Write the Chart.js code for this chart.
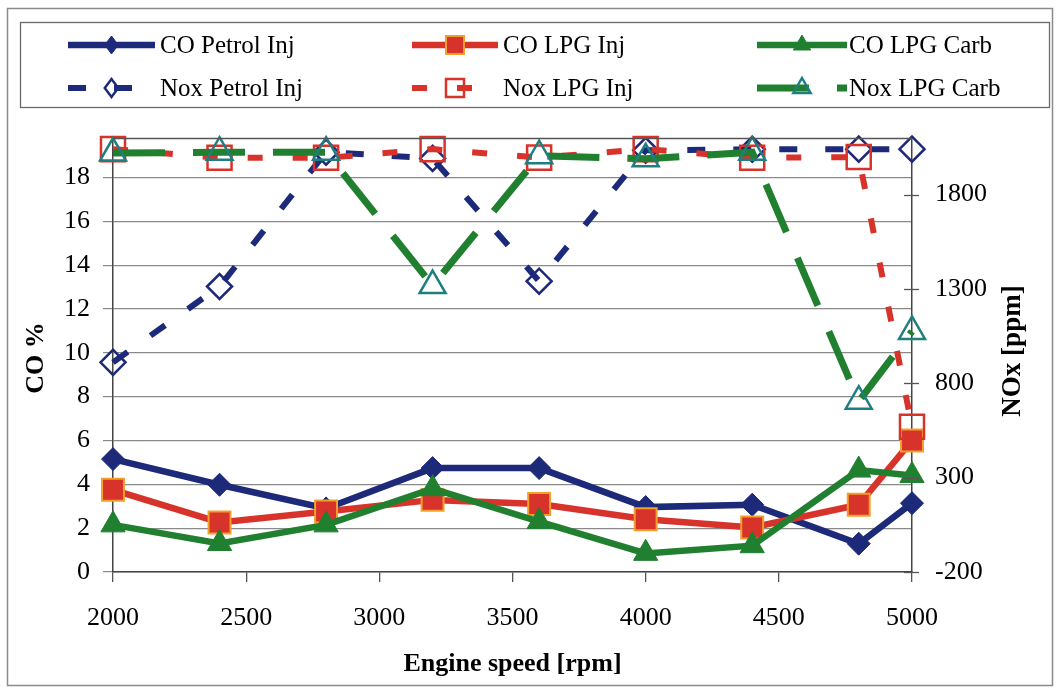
<!DOCTYPE html>
<html>
<head>
<meta charset="utf-8">
<script src="https://cdn.jsdelivr.net/npm/chart.js@4/dist/chart.umd.min.js"></script>
<style>
  html, body { margin: 0; padding: 0; background: #fff; }
  #wrap { width: 1058px; height: 689px; position: relative; }
</style>
</head>
<body>
<div id="wrap"><canvas id="c" width="1058" height="689"></canvas></div>
<script>
// Engine speed (rpm) at each measurement point
const RPM = [2000, 2400, 2800, 3200, 3600, 4000, 4400, 4800, 5000];

// CO emissions, % (left axis)
const CO_PETROL_INJ = [5.15, 3.98, 2.9, 4.74, 4.74, 2.96, 3.07, 1.29, 3.14];
const CO_LPG_INJ    = [3.75, 2.26, 2.76, 3.29, 3.1, 2.41, 2.03, 3.07, 6.0];
const CO_LPG_CARB   = [2.15, 1.3, 2.15, 3.8, 2.3, 0.85, 1.2, 4.65, 4.4];

// NOx emissions, ppm (right axis)
const NOX_PETROL_INJ = [911, 1313, 2025, 1992, 1341, 2035, 2040, 2041, 2041];
const NOX_LPG_INJ    = [2041, 1995, 1995, 2041, 1996, 2041, 1995, 1999, 570];
const NOX_LPG_CARB   = [2020, 2025, 2025, 1318, 2006, 1990, 2025, 705, 1075];

// Tick labels
const X_TICKS   = [2000, 2500, 3000, 3500, 4000, 4500, 5000];
const CO_TICKS  = [0, 2, 4, 6, 8, 10, 12, 14, 16, 18];
const NOX_TICKS = [-200, 300, 800, 1300, 1800];

const NAVY = '#1d2a7a';
const RED = '#d8332a';
const ORANGE = '#f2a02c';
const GREEN = '#21802f';
const TEAL = '#1f7f80';
const SERIF = "'Liberation Serif', 'Times New Roman', serif";

const pts = arr => RPM.map((x, i) => ({ x: x, y: arr[i] }));

const datasets = [
  { label: 'CO Petrol Inj', data: pts(CO_PETROL_INJ), yAxisID: 'y',
    borderColor: NAVY, borderWidth: 6.5, pointStyle: 'rectRot', pointRadius: 11.5,
    pointBackgroundColor: NAVY, pointBorderColor: NAVY, pointBorderWidth: 1, legendR: 9 },
  { label: 'CO LPG Inj', data: pts(CO_LPG_INJ), yAxisID: 'y',
    borderColor: RED, borderWidth: 6.5, pointStyle: 'rect', pointRadius: 15.5,
    pointBackgroundColor: RED, pointBorderColor: ORANGE, pointBorderWidth: 2, legendR: 12 },
  { label: 'CO LPG Carb', data: pts(CO_LPG_CARB), yAxisID: 'y',
    borderColor: GREEN, borderWidth: 6.5, pointStyle: 'triangle', pointRadius: 14,
    pointBackgroundColor: GREEN, pointBorderColor: GREEN, pointBorderWidth: 1, legendR: 10 },
  { label: 'Nox Petrol Inj', data: pts(NOX_PETROL_INJ), yAxisID: 'y2',
    borderColor: NAVY, borderWidth: 6, borderDash: [18, 28], pointStyle: 'rectRot', pointRadius: 12.5,
    pointBackgroundColor: 'rgba(0,0,0,0)', pointBorderColor: NAVY, pointBorderWidth: 2.5, legendR: 9 },
  { label: 'Nox LPG Inj', data: pts(NOX_LPG_INJ), yAxisID: 'y2',
    borderColor: RED, borderWidth: 6, borderDash: [15, 30], pointStyle: 'rect', pointRadius: 17,
    pointBackgroundColor: 'rgba(0,0,0,0)', pointBorderColor: RED, pointBorderWidth: 2.5, legendR: 12 },
  { label: 'Nox LPG Carb', data: pts(NOX_LPG_CARB), yAxisID: 'y2',
    borderColor: GREEN, borderWidth: 7, borderDash: [52, 28], pointStyle: 'triangle', pointRadius: 15,
    pointBackgroundColor: 'rgba(0,0,0,0)', pointBorderColor: TEAL, pointBorderWidth: 2.5, legendR: 10 }
];
// later series paint over earlier ones
datasets.forEach((d, i) => {
  d.order = datasets.length - i;
  d.tension = 0;
  d.clip = false;
  d.fill = false;
  d.borderCapStyle = 'butt';
  d.borderJoinStyle = 'miter';
});

function setTicks(list) {
  return scale => { scale.ticks = list.map(v => ({ value: v })); };
}

// marker shapes for the legend samples
function drawMarker(ctx, style, r, x, y) {
  ctx.beginPath();
  if (style === 'rectRot') {
    ctx.moveTo(x - r * 0.75, y); ctx.lineTo(x, y - r); ctx.lineTo(x + r * 0.75, y); ctx.lineTo(x, y + r);
  } else if (style === 'rect') {
    const s = r * 0.75;
    ctx.rect(x - s, y - s, 2 * s, 2 * s);
  } else {
    ctx.moveTo(x, y - r); ctx.lineTo(x + r * 0.866, y + r / 2); ctx.lineTo(x - r * 0.866, y + r / 2);
  }
  ctx.closePath();
  ctx.fill();
  ctx.stroke();
}

const decor = {
  id: 'decor',
  beforeDraw(chart) {
    const ctx = chart.ctx;
    ctx.save();
    ctx.fillStyle = '#fff';
    ctx.fillRect(0, 0, chart.width, chart.height);
    ctx.restore();
  },
  afterDraw(chart) {
    const ctx = chart.ctx;
    const area = chart.chartArea;
    ctx.save();

    // outer frame and legend box
    ctx.strokeStyle = '#8a8a8a';
    ctx.lineWidth = 1.5;
    ctx.strokeRect(7.5, 8.5, 1045, 677);
    ctx.strokeStyle = '#6a6a6a';
    ctx.lineWidth = 1.3;
    ctx.strokeRect(20.5, 22.5, 1029, 85);

    // top edge of the plot area
    ctx.strokeStyle = '#555';
    ctx.lineWidth = 1.5;
    ctx.beginPath();
    ctx.moveTo(area.left, area.top + 0.5);
    ctx.lineTo(area.right, area.top + 0.5);
    ctx.stroke();

    // right axis tick marks crossing the axis line
    const y2 = chart.scales.y2;
    ctx.strokeStyle = '#555';
    ctx.lineWidth = 1.3;
    NOX_TICKS.forEach(v => {
      const py = Math.round(y2.getPixelForValue(v)) + 0.5;
      ctx.beginPath();
      ctx.moveTo(area.right - 8, py);
      ctx.lineTo(area.right + 7, py);
      ctx.stroke();
    });

    // legend: three columns, two rows
    const cols = [[68, 155, 160], [412, 498, 503], [757, 847, 849]];
    const rows = [45, 88];
    chart.data.datasets.forEach((ds, i) => {
      const c = cols[i % 3];
      const y = rows[Math.floor(i / 3)];
      ctx.save();
      ctx.strokeStyle = ds.borderColor;
      ctx.lineWidth = ds.borderWidth;
      ctx.lineCap = 'butt';
      ctx.setLineDash(ds.borderDash || []);
      ctx.beginPath();
      ctx.moveTo(c[0], y);
      ctx.lineTo(c[1], y);
      ctx.stroke();
      ctx.setLineDash([]);
      ctx.fillStyle = ds.pointBackgroundColor;
      ctx.strokeStyle = ds.pointBorderColor;
      ctx.lineWidth = ds.pointBorderWidth;
      drawMarker(ctx, ds.pointStyle, ds.legendR, (c[0] + c[1]) / 2, y);
      ctx.restore();
      ctx.fillStyle = '#000';
      ctx.font = '25px ' + SERIF;
      ctx.textAlign = 'left';
      ctx.textBaseline = 'middle';
      ctx.fillText(ds.label, c[2], y + 1);
    });

    // axis titles
    ctx.fillStyle = '#000';
    ctx.font = 'bold 26px ' + SERIF;
    ctx.textAlign = 'center';
    ctx.textBaseline = 'middle';
    ctx.fillText('Engine speed [rpm]', (area.left + area.right) / 2, 664);

    ctx.save();
    ctx.translate(36, 358);
    ctx.rotate(-Math.PI / 2);
    ctx.fillText('CO %', 0, 0);
    ctx.restore();

    ctx.save();
    ctx.font = 'bold 27px ' + SERIF;
    ctx.translate(1013, 351);
    ctx.rotate(-Math.PI / 2);
    ctx.fillText('NOx [ppm]', 0, 0);
    ctx.restore();

    ctx.restore();
  }
};

const tickFont = { family: SERIF, size: 26 };

new Chart(document.getElementById('c'), {
  type: 'line',
  data: { datasets: datasets },
  options: {
    responsive: false,
    devicePixelRatio: 1,
    animation: false,
    events: [],
    layout: { padding: { top: 138, left: 0, right: 0, bottom: 0 } },
    plugins: { legend: { display: false }, tooltip: { enabled: false } },
    scales: {
      x: {
        type: 'linear', position: 'bottom', min: 2000, max: 5000,
        afterBuildTicks: setTicks(X_TICKS),
        afterFit: s => { s.height = 117; },
        grid: { drawOnChartArea: false, drawTicks: true, tickLength: 10, color: '#555', lineWidth: 1.3 },
        border: { display: true, color: '#444', width: 1.5 },
        ticks: { font: tickFont, color: '#000', padding: 21, maxRotation: 0, autoSkip: false,
                 callback: v => String(v) }
      },
      y: {
        type: 'linear', position: 'left', min: 0, max: 19.8,
        afterBuildTicks: setTicks(CO_TICKS),
        afterFit: s => { s.width = 113; },
        grid: { drawOnChartArea: true, drawTicks: true, tickLength: 10, color: '#8a8a8a', lineWidth: 1.2 },
        border: { display: true, color: '#444', width: 1.5 },
        ticks: { font: tickFont, color: '#000', padding: 13, autoSkip: false, callback: v => String(v) }
      },
      y2: {
        type: 'linear', position: 'right', min: -200, max: 2100,
        afterBuildTicks: setTicks(NOX_TICKS),
        afterFit: s => { s.width = 146; },
        grid: { drawOnChartArea: false, drawTicks: false },
        border: { display: true, color: '#444', width: 1.5 },
        ticks: { font: tickFont, color: '#000', padding: 23, autoSkip: false, callback: v => String(v) }
      }
    }
  },
  plugins: [decor]
});
</script>
</body>
</html>
